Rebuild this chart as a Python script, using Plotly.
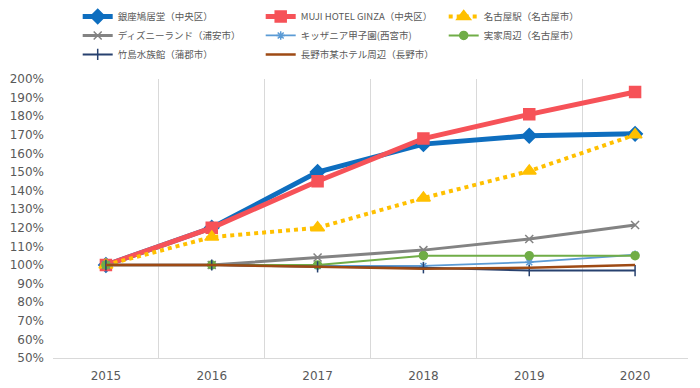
import plotly.graph_objects as go

years = ["2015", "2016", "2017", "2018", "2019", "2020"]

names = [
    "銀座鳩居堂（中央区）",
    "MUJI HOTEL GINZA（中央区）",
    "名古屋駅（名古屋市）",
    "ディズニーランド（浦安市）",
    "キッザニア甲子園(西宮市)",
    "実家周辺（名古屋市）",
    "竹島水族館（蒲郡市）",
    "長野市某ホテル周辺（長野市）",
]

ginza = [1.00, 1.20, 1.50, 1.65, 1.695, 1.705]
muji = [1.00, 1.20, 1.45, 1.68, 1.81, 1.93]
nagoya = [1.00, 1.15, 1.20, 1.36, 1.505, 1.70]
disney = [1.00, 1.00, 1.04, 1.08, 1.14, 1.215]
kidzania = [1.00, 1.00, 0.995, 0.995, 1.015, 1.055]
jikka = [1.00, 1.00, 1.00, 1.05, 1.05, 1.05]
takeshima = [1.00, 1.00, 0.99, 0.985, 0.97, 0.97]
nagano = [1.00, 1.00, 0.99, 0.98, 0.985, 1.00]

series = [ginza, muji, nagoya, disney, kidzania, jikka, takeshima, nagano]

styles = [
    dict(color="#0E6EBF", width=5, dash="solid", symbol="diamond", size=11),
    dict(color="#F65258", width=5, dash="solid", symbol="square", size=11),
    dict(color="#FFC000", width=4, dash="dot", symbol="triangle-up", size=12),
    dict(color="#838383", width=3, dash="solid", symbol="x-thin", size=8),
    dict(color="#5B9BD5", width=1.8, dash="solid", symbol="asterisk", size=7),
    dict(color="#70AD47", width=2, dash="solid", symbol="circle", size=8),
    dict(color="#27416F", width=2, dash="solid", symbol="line-ns", size=8),
    dict(color="#9E4A14", width=2.5, dash="solid", symbol=None, size=0),
]

fig = go.Figure()
for name, vals, st in zip(names, series, styles):
    mode = "lines+markers" if st["symbol"] else "lines"
    marker = dict(color=st["color"], size=st["size"])
    if st["symbol"]:
        marker["symbol"] = st["symbol"]
        marker["line"] = dict(color=st["color"], width=1.5)
    fig.add_trace(go.Scatter(
        x=years, y=vals, name=name, mode=mode,
        line=dict(color=st["color"], width=st["width"], dash=st["dash"]),
        marker=marker,
    ))

fig.update_layout(
    width=700, height=388,
    margin=dict(l=53, r=12, t=79, b=30, autoexpand=False),
    paper_bgcolor="white", plot_bgcolor="white",
    hovermode=False,
    font=dict(family="DejaVu Sans", color="#595959", size=12),
    legend=dict(
        orientation="h", xref="container", yref="container",
        x=0.111, y=0.995, xanchor="left", yanchor="top",
        entrywidth=138, tracegroupgap=0, itemwidth=30,
        font=dict(family="Noto Sans CJK JP", size=9.5, color="#595959"),
        bgcolor="rgba(0,0,0,0)",
    ),
    xaxis=dict(
        type="category", range=[-0.5, 5.5], tickson="boundaries",
        showgrid=True, gridcolor="#D9D9D9", gridwidth=1,
        showline=True, linecolor="#D9D9D9", linewidth=1,
        ticks="", ticklen=0, ticklabelstandoff=7,
        tickfont=dict(size=12, color="#595959"),
        zeroline=False,
    ),
    yaxis=dict(
        range=[0.5, 2.0], dtick=0.1, tick0=0.5, tickformat=".0%",
        showgrid=False, zeroline=False, ticklabelstandoff=8,
        showline=False, ticks="", tickfont=dict(size=12, color="#595959"),
    ),
)

fig.write_html(
    "out.html",
    config={"displayModeBar": False, "staticPlot": True},
    post_script="document.body.style.margin='0';",
)
